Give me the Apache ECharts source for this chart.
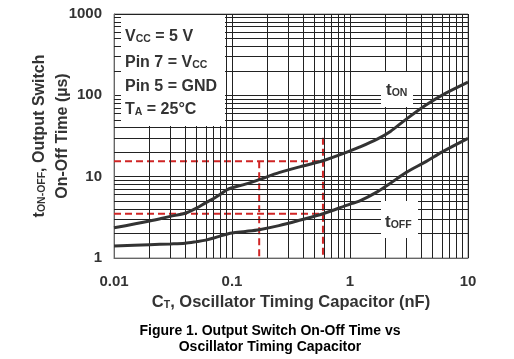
<!DOCTYPE html>
<html><head><meta charset="utf-8">
<script src="https://cdn.jsdelivr.net/npm/echarts@6/dist/echarts.min.js"></script>
<style>html,body{margin:0;padding:0;background:#fff}#c{width:514px;height:359px}</style>
</head><body><div id="c"></div>
<script>
// ---- data ----
const capacitance = [0.01, 0.02, 0.03, 0.04, 0.05, 0.06, 0.07, 0.08, 0.09, 0.1, 0.13, 0.17, 0.25, 0.38, 0.59, 1, 1.2, 1.7, 2.2, 3, 4.4, 6, 10];
const tOn  = [2.35, 2.85, 3.25, 3.55, 4.1, 4.8, 5.4, 6.1, 6.85, 7.3, 8.1, 9.2, 11.2, 13.3, 15.7, 20.7, 23, 29, 36, 51, 76, 100, 145];
const tOff = [1.40, 1.46, 1.49, 1.52, 1.59, 1.66, 1.76, 1.87, 1.96, 2.03, 2.12, 2.23, 2.5, 2.93, 3.5, 4.6, 5.0, 6.5, 8.3, 11.3, 15.3, 20, 29.5];
const xTickLabels = ['0.01', '0.1', '1', '10'];
const yTickLabels = ['1', '10', '100', '1000'];
const xMinor = [0.02,0.03,0.04,0.05,0.06,0.07,0.08,0.09, 0.2,0.3,0.4,0.5,0.6,0.7,0.8,0.9, 2,3,4,5,6,7,8,9];
const yMinor = [2,3,4,5,6,7,8,9, 20,30,40,50,60,70,80,90, 200,300,400,500,600,700,800,900];
// red dashed example guides
const guideX = [0.17, 0.59];
const guideY = [15.5, 3.5];
const guideTop = [15.5, 30];

const FONT = "'Liberation Sans', Arial, Helvetica, sans-serif";
const TXT = '#333';
const RED = '#d02525';

function fmt(v){ return String(Number(Number(v).toPrecision(6))); }

const guideSeries = [];
guideY.forEach(function(y){
  guideSeries.push({type:'line', data:[[0.01,y],[guideX[1],y]], symbol:'none', silent:true, z:3,
    lineStyle:{color:RED, width:2, type:[7,4]}});
});
guideX.forEach(function(x,i){
  guideSeries.push({type:'line', data:[[x,guideTop[i]],[x,1]], symbol:'none', silent:true, z:3,
    lineStyle:{color:RED, width:2, type:[7,4]}});
});

const sub = {fontSize:10.5, fontWeight:'bold', fontFamily:FONT, lineHeight:8, verticalAlign:'bottom', fill:TXT, color:TXT};
const main = {fontSize:16, fontWeight:'bold', fontFamily:FONT, lineHeight:19, verticalAlign:'bottom', fill:TXT, color:TXT};
const big = {fontSize:17, fontWeight:'bold', fontFamily:FONT, lineHeight:19, verticalAlign:'bottom', fill:TXT, color:TXT};

function gtext(x, y, text, extra){
  return Object.assign({type:'text', z:60, style:{x:x, y:y, text:text, rich:{m:main, s:sub, b:big},
    align:'left', verticalAlign:'middle', fill:TXT, font:'bold 16px '+FONT}}, extra||{});
}

const chart = echarts.init(document.getElementById('c'), null, {renderer:'canvas'});
chart.setOption({
  animation:false,
  backgroundColor:'#fff',
  grid:{left:114, right:46, top:14, bottom:101, show:true, borderColor:'#888', borderWidth:1},
  xAxis:{type:'log', logBase:10, min:0.01, max:10,
    axisLine:{show:true, onZero:false, lineStyle:{color:'#666', width:1}},
    axisTick:{show:false},
    splitLine:{show:true, lineStyle:{color:'#222', width:1}},
    axisLabel:{margin:16, color:TXT, fontSize:15, fontWeight:'bold', fontFamily:FONT,
      formatter:function(v){ const s=fmt(v); return xTickLabels.indexOf(s)>=0 ? s : ''; }},
    name:'{m|C}{s|T}{m|, Oscillator Timing Capacitor (nF)}', nameLocation:'middle', nameGap:34,
    nameTextStyle:{rich:{m:Object.assign({}, main, {fontSize:16.5}), s:sub}}
  },
  yAxis:{type:'log', logBase:10, min:1, max:1000,
    axisLine:{show:true, onZero:false, lineStyle:{color:'#666', width:1}},
    axisTick:{show:false},
    splitLine:{show:true, lineStyle:{color:'#222', width:1}},
    axisLabel:{margin:12, color:TXT, fontSize:15, fontWeight:'bold', fontFamily:FONT,
      formatter:function(v){ const s=fmt(v); return yTickLabels.indexOf(s)>=0 ? s : ''; }}
  },
  series:[
    {type:'line', data:[], silent:true, z:1,
      markLine:{silent:true, symbol:['none','none'], label:{show:false}, animation:false,
        lineStyle:{color:'#222', width:1, type:'solid'},
        data: xMinor.map(function(v){return {xAxis:v};}).concat(yMinor.map(function(v){return {yAxis:v};}))}},
  ].concat(guideSeries).concat([
    {name:'tON', type:'line', data:capacitance.map(function(c,i){return [c,tOn[i]];}), symbol:'none', smooth:0.3, z:5,
      lineStyle:{color:'#333', width:3}},
    {name:'tOFF', type:'line', data:capacitance.map(function(c,i){return [c,tOff[i]];}), symbol:'none', smooth:0.3, z:5,
      lineStyle:{color:'#333', width:3}}
  ]),
  graphic:[
    {type:'rect', z:50, shape:{x:121, y:15, width:104, height:111}, style:{fill:'#fff'}},
    gtext(125, 35, '{m|V}{s|CC}{m| = 5 V}'),
    gtext(125, 61, '{m|Pin 7 = V}{s|CC}'),
    gtext(125, 85, '{m|Pin 5 = GND}'),
    gtext(125, 108, '{m|T}{s|A}{m| = 25°C}'),
    {type:'rect', z:50, shape:{x:381, y:72, width:32, height:35}, style:{fill:'#fff'}},
    gtext(386, 89, '{b|t}{s|ON}'),
    {type:'rect', z:50, shape:{x:381, y:201, width:37, height:37}, style:{fill:'#fff'}},
    gtext(385, 221, '{b|t}{s|OFF}'),
    {type:'text', z:60, x:48, y:136, rotation:Math.PI/2,
      style:{x:0, y:0, align:'center', verticalAlign:'middle', fill:TXT, font:'bold 16px '+FONT,
        text:'{m|t}{s|ON-OFF}{m|, Output Switch}\n{m|On-Off Time (µs)}',
        rich:{m:Object.assign({}, main, {lineHeight:23}), s:sub}}},
    {type:'text', z:60, style:{x:270, y:331, align:'center', verticalAlign:'middle', fill:'#000',
      font:'bold 14px '+FONT, text:'Figure 1. Output Switch On-Off Time vs'}},
    {type:'text', z:60, style:{x:270, y:347, align:'center', verticalAlign:'middle', fill:'#000',
      font:'bold 14px '+FONT, text:'Oscillator Timing Capacitor'}}
  ]
});
</script></body></html>
